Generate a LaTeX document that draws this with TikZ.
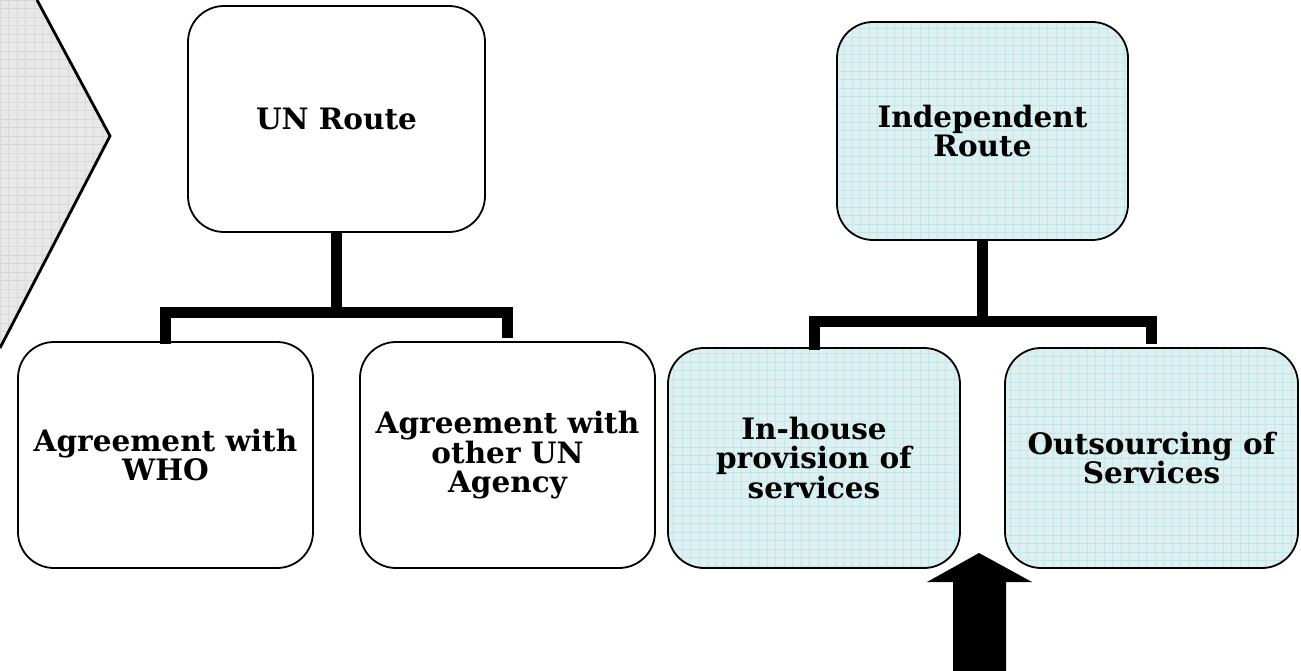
\documentclass[tikz,border=0pt]{standalone}
\usepackage{fontspec}
\setmainfont{DejaVu Serif}
\begin{document}
\begin{tikzpicture}[x=1pt,y=-1pt,
  every node/.style={font=\bfseries\fontsize{29.5}{28.5}\selectfont, align=center},
  box/.style={draw=black, line width=1.8pt, rounded corners=36pt, rectangle,
    inner sep=4pt},
  plainbox/.style={box, fill=white},
  bluebox/.style={box, fill=cyanfill,
    path picture={\draw[cyangrid, line width=0.5pt, step=8.5pt]
      (path picture bounding box.south west) grid (path picture bounding box.north east);}},
  link/.style={line width=11pt, line join=miter, draw=black}
]
\definecolor{cyanfill}{RGB}{221,240,242}
\definecolor{cyangrid}{RGB}{198,229,233}
\definecolor{greyfill}{RGB}{232,232,232}
\definecolor{greygrid}{RGB}{216,216,216}

\useasboundingbox (0,0) rectangle (1301,671);

% chevron entering from the left edge
\begin{scope}
  \clip (0,0) rectangle (1301,671);
  \path[fill=greyfill] (-10,-80) -- (37,0) -- (110,136) -- (0,348) -- (-10,348) -- cycle;
  \clip (-10,-80) -- (37,0) -- (110,136) -- (0,348) -- (-10,348) -- cycle;
  \draw[greygrid, line width=0.5pt, step=8.5pt] (0,0) grid (120,360);
\end{scope}
\draw[line width=2.8pt, line join=miter] (37,0) -- (110,136) -- (0,348);

% UN route branch
\node[plainbox, minimum width=297pt, minimum height=226pt] (un) at (336.5,119) {UN Route};
\node[plainbox, minimum width=295pt, minimum height=226pt] (who) at (165.5,455)
  {Agreement with\\WHO};
\node[plainbox, minimum width=295pt, minimum height=226pt] (oth) at (507.5,455)
  {Agreement with\\other UN\\Agency};

\coordinate (unbar) at (336.5,312.5);
\draw[link] (who.north) ++(0,3) |- (unbar) -| ([yshift=3pt]oth.north);
\draw[link] (un.south) -- (unbar);

% Independent route branch
\node[bluebox, minimum width=291pt, minimum height=218pt] (ind) at (982.5,131)
  {Independent\\Route};
\node[bluebox, minimum width=292pt, minimum height=220pt] (inh) at (814,458)
  {In-house\\provision of\\services};
\node[bluebox, minimum width=293pt, minimum height=220pt] (out) at (1151.5,458)
  {Outsourcing of\\Services};

\coordinate (indbar) at (982.5,321.5);
\draw[link] (inh.north) ++(0,3) |- (indbar) -| ([yshift=3pt]out.north);
\draw[link] (ind.south) -- (indbar);

% upward block arrow
\fill[black] (953,671) -- (953,582) -- (927,582) -- (979,553) -- (1032,582)
  -- (1006,582) -- (1006,671) -- cycle;
\end{tikzpicture}
\end{document}
